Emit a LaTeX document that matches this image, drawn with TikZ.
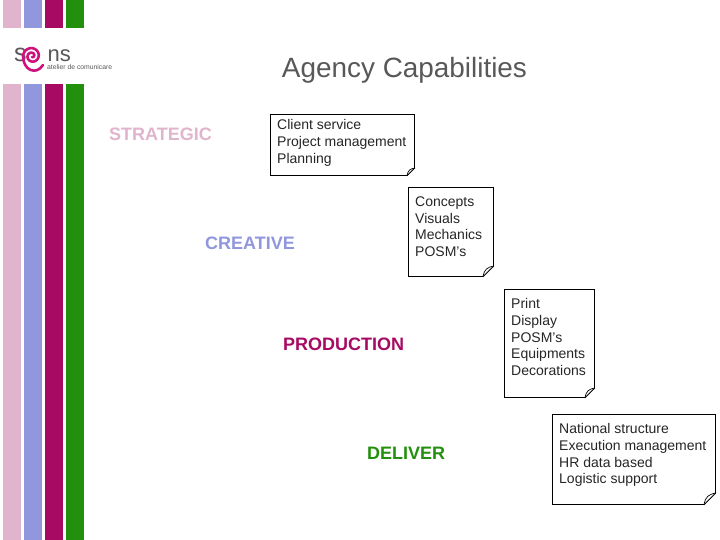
\documentclass[tikz,border=0pt]{standalone}
\usepackage{fontspec}
\setmainfont{Liberation Sans}
\usetikzlibrary{calc}
\definecolor{stratpink}{HTML}{E0B4CC}
\definecolor{creablue}{HTML}{9097DD}
\definecolor{prodred}{HTML}{A60A63}
\definecolor{delivgreen}{HTML}{22900D}
\definecolor{logogray}{HTML}{58585A}
\definecolor{logopink}{HTML}{D0107F}
\tikzset{
  stage/.style={font=\fontsize{18}{20}\selectfont\bfseries, anchor=west, inner sep=0pt},
  notebox/.style={draw=black, line width=0.9pt, fill=white, anchor=north west, inner sep=0pt},
  notetext/.style={font=\fontsize{14}{16.7}\selectfont, anchor=north west, align=left, inner sep=0pt, text=black!85}
}
\begin{document}
\begin{tikzpicture}[x=1pt,y=-1pt]
  \useasboundingbox (0,0) rectangle (720,540);
  % stripes
  \foreach \col [count=\pos] in {stratpink,creablue,prodred,delivgreen} {
    \fill[\col] (21*\pos-18,0) rectangle (21*\pos,28);
    \fill[\col] (21*\pos-18,84) rectangle (21*\pos,540);
  }
  % logo
  \node[text=logogray, font=\fontsize{25}{25}\selectfont, anchor=base west, inner sep=0pt] (logos) at (14,62) {s};
  \node[text=logogray, font=\fontsize{22}{22}\selectfont, anchor=base west, inner sep=0pt] (logons) at (47.5,62) {ns};
  \node[text=logogray, font=\fontsize{6.8}{7}\selectfont, anchor=base west, inner sep=0pt] (logosub) at (47,70) {atelier de comunicare};
  \draw[logopink, line width=2.6pt, line cap=round] plot[domain=0:630, samples=50, smooth] ({32+(1+\x/630*8)*cos(810-\x)},{56+(1+\x/630*8)*sin(810-\x)}) .. controls (23,70) and (36,76) .. (43,65);
  % title
  \node[text=logogray, font=\fontsize{27.9}{30}\selectfont, anchor=center, inner sep=0pt] (title) at (404.5,70) {Agency Capabilities};
  % stages
  \node[stage, text=stratpink] (strategic) at (109,134.5) {STRATEGIC};
  \node[stage, text=creablue] (creative) at (205,243.5) {CREATIVE};
  \node[stage, text=prodred] (production) at (283,344.5) {PRODUCTION};
  \node[stage, text=delivgreen] (deliver) at (367,453.5) {DELIVER};
  % notes
  \foreach \nm/\xa/\ya/\wdt/\hgt/\fold/\txa/\tya/\txt in {
    client/270/114/144/61/8/277/119.5/{Client service\\Project management\\Planning},
    concepts/408/187/85/89/11/415/196.5/{Concepts\\Visuals\\Mechanics\\POSM's},
    print/504/289/90/108/10/511/298.5/{Print\\Display\\POSM's\\Equipments\\Decorations},
    national/552/414/163/90/12/559/423.5/{National structure\\Execution management\\HR data based\\Logistic support}} {
    \node[notebox, minimum width=\wdt pt, minimum height=\hgt pt] (\nm) at (\xa,\ya) {};
    \node[notetext] (\nm text) at (\txa,\tya) {\txt};
    \fill[white] ($(\nm.south east)+(-\fold-1,1)$) -- ($(\nm.south east)+(1,1)$) -- ($(\nm.south east)+(1,-\fold-1)$) -- cycle;
    \draw[line width=0.9pt] ($(\nm.south east)+(-\fold,0)$) -- ($(\nm.south east)+(0,-\fold)$);
    \draw[line width=0.7pt] ($(\nm.south east)+(-\fold,0)$) .. controls ($(\nm.south east)+(-0.85*\fold,-0.75*\fold)$) and ($(\nm.south east)+(-0.6*\fold,-0.85*\fold)$) .. ($(\nm.south east)+(0,-\fold)$);
  }
\end{tikzpicture}
\end{document}
